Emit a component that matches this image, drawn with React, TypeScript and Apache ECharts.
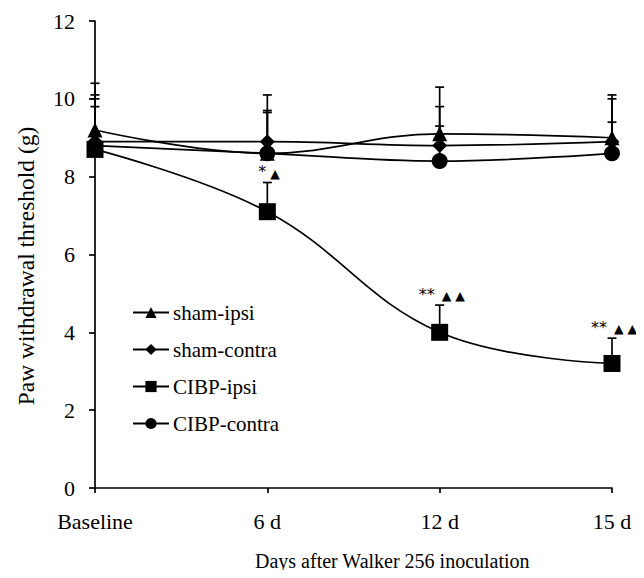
import React, { useEffect, useRef } from "react";
import * as echarts from "echarts";

const categories = ["Baseline", "6 d", "12 d", "15 d"];
const seriesNames = ["sham-ipsi", "sham-contra", "CIBP-ipsi", "CIBP-contra"];
const shamIpsi = [9.2, 8.6, 9.1, 9.0];
const shamIpsiSem = [1.2, 1.5, 1.2, 1.1];
const shamContra = [8.9, 8.9, 8.8, 8.9];
const shamContraSem = [1.2, 0.8, 1.0, 1.1];
const cibpIpsi = [8.7, 7.1, 4.0, 3.2];
const cibpIpsiSem = [1.3, 0.75, 0.7, 0.65];
const cibpContra = [8.8, 8.6, 8.4, 8.6];
const cibpContraSem = [1.0, 1.05, 0.9, 0.8];
const starMarks = ["", "*", "**", "**"];
const triangleMarks = ["", "\u25B2", "\u25B2 \u25B2", "\u25B2 \u25B2"];
const yMin = 0;
const yMax = 12;
const yStep = 2;
const xTitle = "Days after Walker 256 inoculation";
const yTitle = "Paw withdrawal threshold (g)";

const FONT = "'Liberation Serif', 'Times New Roman', serif";

export default function App() {
  const ref = useRef<HTMLDivElement>(null);
  useEffect(() => {
    if (!ref.current) return;
    const chart = echarts.init(ref.current, undefined, { renderer: "svg" });
    const groups = [
      { name: seriesNames[0], mean: shamIpsi, sem: shamIpsiSem, symbol: "triangle", size: 15 },
      { name: seriesNames[1], mean: shamContra, sem: shamContraSem, symbol: "diamond", size: 15 },
      { name: seriesNames[2], mean: cibpIpsi, sem: cibpIpsiSem, symbol: "rect", size: 17 },
      { name: seriesNames[3], mean: cibpContra, sem: cibpContraSem, symbol: "circle", size: 16 },
    ];
    const errData: any[] = [];
    groups.forEach((g) => {
      g.mean.forEach((m, i) => errData.push([i, m, m + g.sem[i]]));
    });
    const annData: any[] = [];
    starMarks.forEach((s, i) => {
      if (s) annData.push([i, cibpIpsi[i] + cibpIpsiSem[i], s, triangleMarks[i]]);
    });
    const lineSeries = groups.map((g) => ({
      name: g.name,
      type: "line",
      data: g.mean,
      smooth: 0.4,
      symbol: g.symbol,
      symbolSize: g.size,
      showSymbol: true,
      z: 3,
      lineStyle: { color: "#000", width: 1.7 },
      itemStyle: { color: "#000", borderWidth: 0 },
    }));
    const option: any = {
      animation: false,
      backgroundColor: "#fff",
      grid: { left: 95, right: 32, top: 21, bottom: 90 },
      legend: {
        orient: "vertical",
        left: 127,
        top: 297,
        itemWidth: 36,
        itemHeight: 14,
        itemGap: 16,
        data: seriesNames,
        textStyle: { fontFamily: FONT, fontSize: 21, color: "#000", padding: [0, 0, 0, -1] },
      },
      xAxis: {
        type: "category",
        data: categories,
        boundaryGap: false,
        axisLine: { lineStyle: { color: "#000", width: 1.7 } },
        axisTick: { show: true, inside: false, length: 5, lineStyle: { color: "#000", width: 1.7 } },
        axisLabel: { fontFamily: FONT, fontSize: 22, color: "#000", margin: 22 },
        splitLine: { show: false },
      },
      yAxis: {
        type: "value",
        min: yMin,
        max: yMax,
        interval: yStep,
        axisLine: { show: true, lineStyle: { color: "#000", width: 1.7 } },
        axisTick: { show: true, inside: false, length: 6, lineStyle: { color: "#000", width: 1.7 } },
        axisLabel: { fontFamily: FONT, fontSize: 22, color: "#000", margin: 20 },
        splitLine: { show: false },
      },
      graphic: [
        {
          type: "text",
          left: 255,
          top: 551,
          style: { text: xTitle, fontFamily: FONT, fontSize: 20, fill: "#000" },
        },
        {
          type: "text",
          x: 26,
          y: 266,
          rotation: Math.PI / 2,
          style: {
            text: yTitle,
            fontFamily: FONT,
            fontSize: 23.5,
            fill: "#000",
            textAlign: "center",
            textVerticalAlign: "middle",
          },
        },
      ],
      series: [
        {
          type: "custom",
          name: "err",
          data: errData,
          z: 2,
          renderItem: (params: any, api: any) => {
            const x = api.value(0);
            const p0 = api.coord([x, api.value(1)]);
            const p1 = api.coord([x, api.value(2)]);
            const style = { stroke: "#000", lineWidth: 1.7 };
            return {
              type: "group",
              children: [
                { type: "line", shape: { x1: p0[0], y1: p0[1], x2: p1[0], y2: p1[1] }, style },
                { type: "line", shape: { x1: p1[0] - 4.5, y1: p1[1], x2: p1[0] + 4.5, y2: p1[1] }, style },
              ],
            };
          },
        },
        ...lineSeries,
        {
          type: "custom",
          name: "ann",
          data: annData,
          z: 4,
          renderItem: (params: any, api: any) => {
            const x = api.value(0);
            const p = api.coord([x, api.value(1)]);
            const d = annData[params.dataIndex];
            const single = d[2].length === 1;
            return {
              type: "group",
              children: [
                {
                  type: "text",
                  x: p[0] + (single ? -1 : -5),
                  y: p[1] - 3,
                  style: {
                    text: d[2],
                    fontFamily: "'DejaVu Sans', sans-serif",
                    fontSize: 16,
                    fill: "#000",
                    textAlign: "right",
                    textVerticalAlign: "bottom",
                  },
                },
                {
                  type: "text",
                  x: p[0] + (single ? 3 : 2),
                  y: p[1] - 3,
                  style: {
                    text: d[3],
                    fontFamily: "'DejaVu Sans', sans-serif",
                    fontSize: 12.5,
                    fill: "#000",
                    textAlign: "left",
                    textVerticalAlign: "bottom",
                  },
                },
              ],
            };
          },
        },
      ],
    };
    chart.setOption(option);
    return () => chart.dispose();
  }, []);
  return <div ref={ref} style={{ width: 644, height: 578, margin: -8 }} />;
}
